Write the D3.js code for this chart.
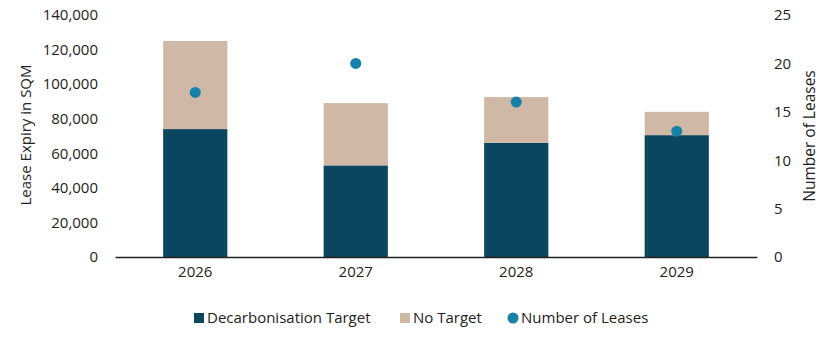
<!DOCTYPE html>
<html>
<head>
<meta charset="utf-8">
<script src="https://cdn.jsdelivr.net/npm/d3@7"></script>
<style>
  body { margin: 0; background: #fff; }
  text { font-family: "Open Sans", "Noto Sans", sans-serif; fill: #222; }
</style>
</head>
<body>
<div id="chart"></div>
<script>
const years = ["2026", "2027", "2028", "2029"];
const decarbonisation = [74000, 53000, 66000, 70500];
const noTarget = [51000, 36000, 26500, 13500];
const leases = [17, 20, 16, 13];
const leftTicks = [0, 20000, 40000, 60000, 80000, 100000, 120000, 140000];
const rightTicks = [0, 5, 10, 15, 20, 25];

const W = 833, H = 339;
const margin = { top: 15, right: 76, bottom: 82, left: 115 };
const width = W - margin.left - margin.right;
const height = H - margin.top - margin.bottom;

const colDark = "#0b4660", colTan = "#cfb8a6", colDot = "#1681a8";

const svg = d3.select("#chart").append("svg")
  .attr("width", W).attr("height", H);
const g = svg.append("g").attr("transform", `translate(${margin.left},${margin.top})`);

const x = d3.scaleBand().domain(years).range([0, width]).paddingInner(0.6).paddingOuter(0.3);
const y = d3.scaleLinear().domain([0, 140000]).range([height, 0]);
const y2 = d3.scaleLinear().domain([0, 25]).range([height, 0]);

const rows = years.map((yr, i) => ({ yr, a: decarbonisation[i], b: noTarget[i], n: leases[i] }));

// stacked bars
g.selectAll(".bar-a").data(rows).join("rect")
  .attr("x", d => x(d.yr)).attr("width", x.bandwidth())
  .attr("y", d => y(d.a)).attr("height", d => y(0) - y(d.a))
  .attr("fill", colDark);
g.selectAll(".bar-b").data(rows).join("rect")
  .attr("x", d => x(d.yr)).attr("width", x.bandwidth())
  .attr("y", d => y(d.a + d.b)).attr("height", d => y(d.a) - y(d.a + d.b))
  .attr("fill", colTan);

// dots
g.selectAll(".dot").data(rows).join("circle")
  .attr("cx", d => x(d.yr) + x.bandwidth() / 2)
  .attr("cy", d => y2(d.n)).attr("r", 5.5)
  .attr("fill", colDot);

// axes
const fmt = d3.format(",");
const ax = g.append("g").call(d3.axisLeft(y).tickValues(leftTicks).tickFormat(fmt).tickSize(0).tickPadding(17));
ax.select(".domain").remove();
ax.selectAll("text").style("font-size", "15px").style("font-family", "'Open Sans', sans-serif").attr("fill", "#222");

const ar = g.append("g").attr("transform", `translate(${width},0)`)
  .call(d3.axisRight(y2).tickValues(rightTicks).tickSize(0).tickPadding(17));
ar.select(".domain").remove();
ar.selectAll("text").style("font-size", "15px").style("font-family", "'Open Sans', sans-serif").attr("fill", "#222");

const axb = g.append("g").attr("transform", `translate(0,${height})`)
  .call(d3.axisBottom(x).tickSize(0).tickPadding(9));
axb.select(".domain").attr("stroke", "#222").attr("stroke-width", 1.3);
axb.selectAll("text").style("font-size", "15px").style("font-family", "'Open Sans', sans-serif").attr("fill", "#222");

// axis titles
svg.append("text")
  .attr("transform", `translate(31,${margin.top + height / 2 - 1}) rotate(-90)`)
  .attr("text-anchor", "middle").style("font-size", "15px")
  .text("Lease Expiry in SQM");
svg.append("text")
  .attr("transform", `translate(815,${margin.top + height / 2}) rotate(-90)`)
  .attr("text-anchor", "middle").style("font-size", "15.5px")
  .text("Number of Leases");

// legend
const legend = [
  { label: "Decarbonisation Target", color: colDark, type: "rect", x: 194 },
  { label: "No Target", color: colTan, type: "rect", x: 400 },
  { label: "Number of Leases", color: colDot, type: "circle", x: 508 }
];
const lg = svg.append("g").attr("transform", "translate(0,318)");
legend.forEach(l => {
  if (l.type === "rect") {
    lg.append("rect").attr("x", l.x).attr("y", -5).attr("width", 10).attr("height", 10).attr("fill", l.color);
  } else {
    lg.append("circle").attr("cx", l.x + 5).attr("cy", 0).attr("r", 5.5).attr("fill", l.color);
  }
  lg.append("text").attr("x", l.x + 13).attr("y", 0).attr("dy", "0.35em")
    .style("font-size", "15px").text(l.label);
});
</script>
</body>
</html>
